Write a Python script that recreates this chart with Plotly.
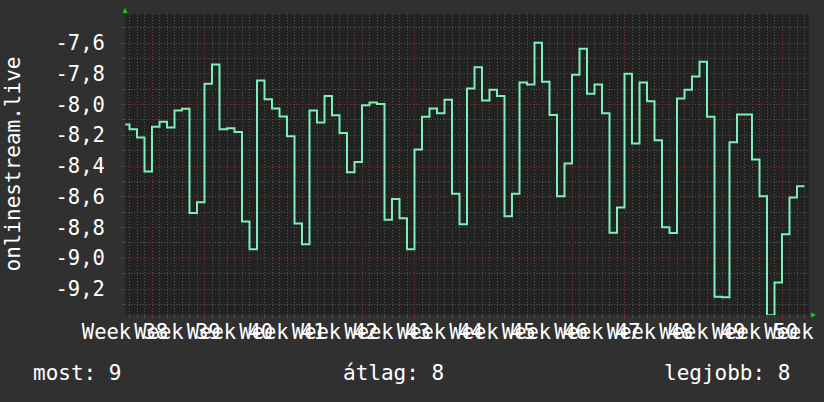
import numpy as np
import plotly.graph_objects as go

# ---- data ----
values = [
    -8.129, -8.161, -8.214, -8.435, -8.144, -8.112, -8.149, -8.038, -8.027, -8.706,
    -8.636, -7.864, -7.739, -8.161, -8.155, -8.179, -8.760, -8.942,
    -7.843, -7.966, -8.025, -8.077, -8.207, -8.773, -8.909, -8.038, -8.116, -7.945,
    -8.070, -8.185, -8.441, -8.374, -8.005, -7.986, -7.997, -8.749, -8.615,
    -8.740, -8.942, -8.292, -8.079, -8.025, -8.057, -7.969, -8.580, -8.779, -7.895,
    -7.758, -7.973, -7.904, -7.945, -8.727, -8.580, -7.856, -7.869,
    -7.598, -7.851, -8.068, -8.597, -8.383, -7.806, -7.637, -7.930, -7.869, -8.057,
    -8.834, -8.669, -7.799, -8.253, -7.856, -7.979, -8.233, -8.799,
    -8.836, -7.960, -7.904, -7.817, -7.721, -8.079, -9.250, -9.254, -8.246, -8.064,
    -8.064, -8.357, -8.597, -9.370, -9.157, -8.844, -8.604, -8.532,
]
week_numbers = list(range(38, 52))
week_labels = [f"Week {w}" for w in week_numbers]
y_tick_values = [-7.6, -7.8, -8.0, -8.2, -8.4, -8.6, -8.8, -9.0, -9.2]
y_tick_labels = ["-7,6", "-7,8", "-8,0", "-8,2", "-8,4", "-8,6", "-8,8", "-9,0", "-9,2"]
axis_title = "onlinestream.live"
legend_texts = ["most: 9", "átlag: 8", "legjobb: 8"]

# ---- time geometry (days) ----
first_boundary = 0.6        # first day change after start
x_range = [0, 91.2]
y_range = [-9.369, -7.411]
n = len(values)
x_steps = np.concatenate([[0.04], first_boundary + np.arange(n - 1), [first_boundary + n - 1]])
y_steps = values + [values[-1]]
label_days = [7 * i for i in range(len(week_labels))]

# ---- layout geometry ----
W, H = 824, 402
ML, MR, MT, MB = 125, 15, 14, 87
PW, PH = W - ML - MR, H - MT - MB

def px_x(px):
    return (px - ML) / PW

def px_y(py):
    return (H - MB - py) / PH

FONT = "DejaVu Sans Mono"
FS = 20.5
FS_LEG = 21
WHITE = "#ffffff"
RED = "#7a3838"
GRAY = "#555555"
DOT = "1px,2px"
BG = "#303030"

fig = go.Figure()
fig.add_trace(go.Scatter(
    x=x_steps, y=y_steps, mode="lines", line=dict(color="#7cf0b8", width=2, shape="hv"),
    hoverinfo="skip", showlegend=False,
))
fig.add_trace(go.Scatter(
    x=label_days, y=[y_range[0]] * len(label_days), xaxis="x2", mode="markers",
    marker=dict(opacity=0), hoverinfo="skip", showlegend=False,
))

annotations = [
    dict(text=axis_title, xref="paper", yref="paper", x=px_x(12), y=px_y(164.5),
         textangle=-90, showarrow=False, xanchor="center", yanchor="middle",
         font=dict(family=FONT, size=FS_LEG, color=WHITE)),
    dict(text=legend_texts[0], xref="paper", yref="paper", x=px_x(31), y=px_y(373),
         showarrow=False, xanchor="left", yanchor="middle",
         font=dict(family=FONT, size=FS_LEG, color=WHITE)),
    dict(text=legend_texts[1], xref="paper", yref="paper", x=px_x(393), y=px_y(373),
         showarrow=False, xanchor="center", yanchor="middle",
         font=dict(family=FONT, size=FS_LEG, color=WHITE)),
    dict(text=legend_texts[2], xref="paper", yref="paper", x=px_x(792), y=px_y(373),
         showarrow=False, xanchor="right", yanchor="middle",
         font=dict(family=FONT, size=FS_LEG, color=WHITE)),
]

shapes = [
    dict(type="path", xref="paper", yref="paper", xsizemode="pixel", ysizemode="pixel",
         xanchor=0, yanchor=1, path="M -2.5 1 L 2.5 1 L 0 6 Z",
         fillcolor="#00dd00", line=dict(width=0)),
    dict(type="path", xref="paper", yref="paper", xsizemode="pixel", ysizemode="pixel",
         xanchor=1, yanchor=0, path="M 2 -2.5 L 2 2.5 L 7 0 Z",
         fillcolor="#00dd00", line=dict(width=0)),
]

fig.update_layout(
    width=W, height=H,
    margin=dict(l=ML, r=MR, t=MT, b=MB, pad=0, autoexpand=False),
    paper_bgcolor=BG, plot_bgcolor="#222222",
    font=dict(family=FONT, size=FS, color=WHITE),
    showlegend=False,
    xaxis=dict(
        range=x_range, showticklabels=False, zeroline=False, showline=False,
        automargin=False,
        tickmode="linear", tick0=3.6, dtick=7,
        showgrid=True, gridcolor=RED, griddash=DOT, gridwidth=1,
        ticks="outside", ticklen=3, tickcolor=RED,
        minor=dict(tickmode="linear", tick0=0.6, dtick=1, showgrid=True,
                   gridcolor=GRAY, griddash=DOT, gridwidth=1,
                   ticks="outside", ticklen=2, tickcolor=GRAY),
    ),
    xaxis2=dict(
        overlaying="x", anchor="y", side="bottom", range=x_range,
        automargin=False,
        tickmode="array", tickvals=label_days, ticktext=week_labels,
        tickangle=0, ticklabeloverflow="allow", showgrid=False, zeroline=False,
        ticks="", showline=False, ticklabelstandoff=2,
        tickfont=dict(family=FONT, size=FS, color=WHITE),
    ),
    yaxis=dict(
        range=y_range, zeroline=False, showline=False,
        automargin=False,
        tickmode="array", tickvals=y_tick_values, ticktext=y_tick_labels,
        showgrid=True, gridcolor=RED, griddash=DOT, gridwidth=1,
        ticks="outside", ticklen=3, tickcolor=RED, ticklabelstandoff=12,
        tickfont=dict(family=FONT, size=FS, color=WHITE),
        minor=dict(tickmode="linear", tick0=-7.5, dtick=0.1, showgrid=True,
                   gridcolor=GRAY, griddash=DOT, gridwidth=1,
                   ticks="outside", ticklen=2, tickcolor=GRAY),
    ),
    annotations=annotations,
    shapes=shapes,
)

fig.write_html(
    "out.html",
    config={"displayModeBar": False},
    post_script="document.body.style.margin='0';document.body.style.background='%s';" % BG,
)
